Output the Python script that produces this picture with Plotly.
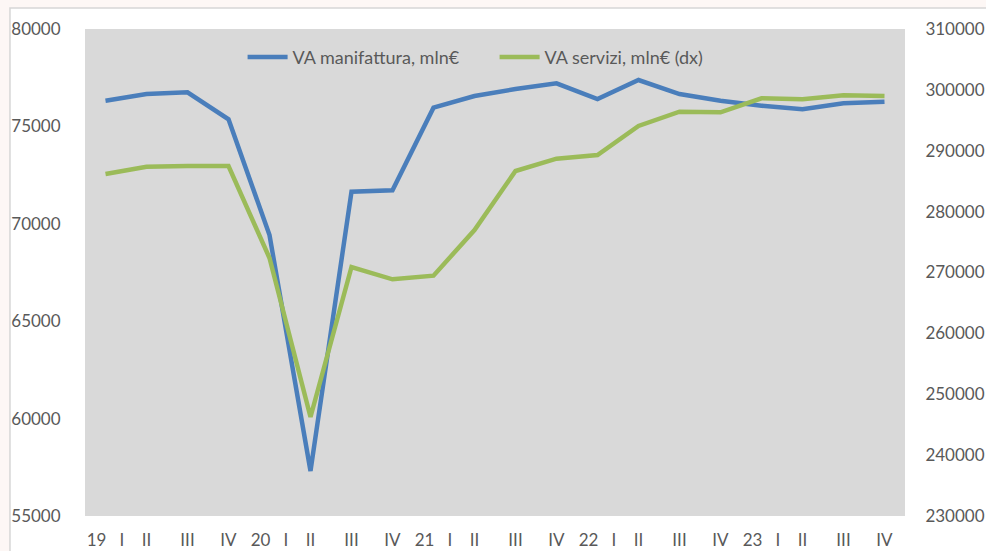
import plotly.graph_objects as go

NB = "\u00a0"
quarter_labels = ["19" + NB * 3 + "I", "II", "III", "IV",
                  "20" + NB * 3 + "I", "II", "III", "IV",
                  "21" + NB * 3 + "I", "II", "III", "IV",
                  "22" + NB * 3 + "I", "II", "III", "IV",
                  "23" + NB * 3 + "I", "II", "III", "IV"]
quarter_index = list(range(len(quarter_labels)))

va_manifattura = [76320, 76660, 76750, 75365, 69425, 57310, 71650, 71720, 75960, 76560,
                  76920, 77210, 76405, 77380, 76660, 76320, 76065, 75880, 76185, 76270]
va_servizi = [286180, 287380, 287495, 287500, 272380, 246260, 270900, 268880, 269475, 276980,
              286675, 288695, 289300, 294065, 296415, 296315, 298615, 298450, 299110, 298995]

left_ticks = [55000, 60000, 65000, 70000, 75000, 80000]
right_ticks = [230000, 240000, 250000, 260000, 270000, 280000, 290000, 300000, 310000]

TXT = "#595959"
FONT = dict(family="Lato, 'Open Sans', sans-serif", size=17, color=TXT)
LEG_FONT = dict(family="Lato, 'Open Sans', sans-serif", size=18, color=TXT)

fig = go.Figure()
fig.add_trace(go.Scatter(x=quarter_index, y=va_manifattura, name="VA manifattura, mln€",
                         mode="lines", line=dict(color="#4A7EBB", width=4.5), yaxis="y"))
fig.add_trace(go.Scatter(x=quarter_index, y=va_servizi, name="VA servizi, mln€ (dx)",
                         mode="lines", line=dict(color="#9BBB59", width=4.5), yaxis="y2"))

fig.update_layout(
    width=986, height=551,
    margin=dict(l=85, r=81, t=29, b=35),
    paper_bgcolor="#fdf7f5",
    plot_bgcolor="rgba(0,0,0,0)",
    font=FONT,
    showlegend=True,
    legend=dict(orientation="h", x=0.4995, y=0.942, xanchor="center", yanchor="middle",
                bgcolor="rgba(0,0,0,0)", font=LEG_FONT, itemwidth=40,
                entrywidth=197, entrywidthmode="pixels"),
    xaxis=dict(range=[-0.5, len(quarter_labels) - 0.5], tickmode="array",
               tickvals=quarter_index, ticktext=quarter_labels, showgrid=False,
               zeroline=False, showline=False, ticks="outside", ticklen=9,
               tickcolor="rgba(0,0,0,0)", tickfont=FONT, automargin=False),
    yaxis=dict(range=[55000, 80000], tickmode="array", tickvals=left_ticks,
               showgrid=False, zeroline=False, showline=False, ticks="outside",
               ticklen=20, tickcolor="rgba(0,0,0,0)", tickfont=FONT,
               tickformat="d", automargin=False),
    yaxis2=dict(range=[230000, 310000], tickmode="array", tickvals=right_ticks,
                overlaying="y", side="right", showgrid=False, zeroline=False, showline=False,
                ticks="outside", ticklen=16, tickcolor="rgba(0,0,0,0)", tickfont=FONT,
                tickformat="d", automargin=False),
    shapes=[
        dict(type="rect", xref="paper", yref="paper", x0=-0.0915, x1=1.2, y0=-0.3, y1=1.043,
             fillcolor="#ffffff", line=dict(color="#d6d6d6", width=1.5), layer="below"),
        dict(type="rect", xref="paper", yref="paper", x0=0, x1=1, y0=0, y1=1,
             fillcolor="#d9d9d9", line=dict(width=0), layer="below"),
    ],
)

fig.write_html(
    "out.html",
    config={"displayModeBar": False},
    post_script="document.body.style.margin='0';document.body.style.overflow='hidden';"
                "document.body.style.background='#fdf7f5';",
)
